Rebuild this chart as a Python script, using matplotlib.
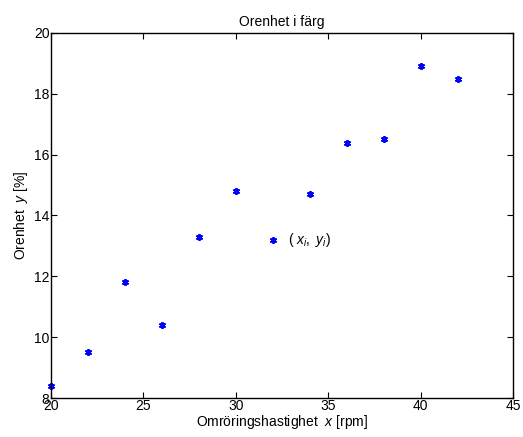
import numpy as np
import matplotlib
matplotlib.use('Agg')
import matplotlib.pyplot as plt

plt.rcParams['font.family'] = ['Liberation Sans', 'DejaVu Sans']
plt.rcParams['mathtext.fontset'] = 'custom'
plt.rcParams['mathtext.rm'] = 'Liberation Sans'
plt.rcParams['mathtext.it'] = 'Liberation Sans:italic'

# data
speed_rpm = [20, 22, 24, 26, 28, 30, 32, 34, 36, 38, 40, 42]
impurity = [8.4, 9.5, 11.8, 10.4, 13.3, 14.8, 13.2, 14.7, 16.4, 16.5, 18.9, 18.5]
x_ticks = [20, 25, 30, 35, 40, 45]
y_ticks = [8, 10, 12, 14, 16, 18, 20]

fig = plt.figure(figsize=(5.23, 4.37), dpi=100)
ax = fig.add_axes([51/523, 1 - 398/437, 462/523, 365/437])

ax.plot(speed_rpm, impurity, linestyle='none', marker=(6, 2, 0), color='blue',
        markersize=5, markeredgewidth=1.3, clip_on=False)
ax.text(32.8, 13.2, r'$(\ x_{i},\ y_{i})$', fontsize=10, va='center', ha='left')

ax.set_xlim(20, 45)
ax.set_ylim(8, 20)
ax.set_xticks(x_ticks)
ax.set_yticks(y_ticks)
ax.tick_params(direction='in', top=True, right=True, labelsize=10, length=4, pad=1)
for s in ax.spines.values():
    s.set_linewidth(1.0)

ax.set_title('Orenhet i färg', fontsize=10, pad=5)
ax.set_xlabel(r'Omröringshastighet  $x$ [rpm]', fontsize=10, labelpad=0)
ax.set_ylabel(r'Orenhet  $y$ [%]', fontsize=10, labelpad=3)

fig.savefig('out.png', dpi=100)
